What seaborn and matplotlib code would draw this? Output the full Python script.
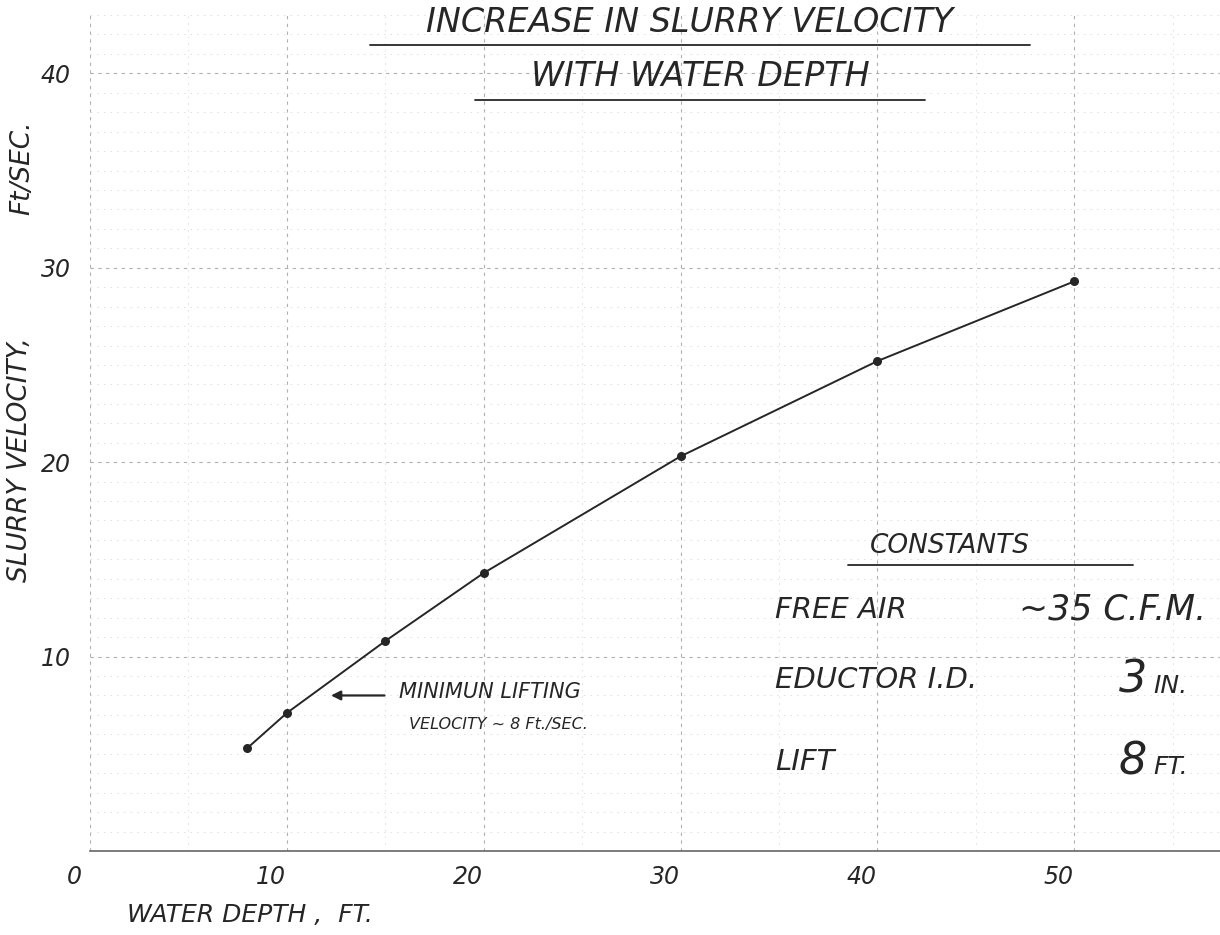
import numpy as np
import pandas as pd
import matplotlib
matplotlib.use("Agg")
import matplotlib.pyplot as plt
import matplotlib.transforms as mtransforms
from matplotlib.lines import Line2D
from matplotlib.ticker import MultipleLocator
import seaborn as sns

# values
water_depth = [8, 10, 15, 20, 30, 40, 50]
slurry_velocity = [5.3, 7.1, 10.8, 14.3, 20.3, 25.2, 29.3]

x_ticks = [0, 10, 20, 30, 40, 50]
y_ticks = [10, 20, 30, 40]

const_names = ["FREE AIR", "EDUCTOR I.D.", "LIFT"]
const_values = ["~35 C.F.M.", "3", "8"]
const_units = ["", "IN.", "FT."]

sns.set_theme(style="white")
plt.rcParams["font.family"] = ["DejaVu Sans"]

INK = "#262626"
TXT = dict(color=INK, fontstyle="italic")

df = pd.DataFrame({"depth": water_depth, "velocity": slurry_velocity})

fig = plt.figure(figsize=(12.2, 9.35), dpi=100)
ax = fig.add_axes([90 / 1220, 84 / 935, 1130 / 1220, 836 / 935])

sns.lineplot(data=df, x="depth", y="velocity", ax=ax, color=INK, linewidth=1.4,
             marker="o", markersize=6.5, markeredgewidth=0, markerfacecolor=INK)

ax.set_xlim(0, 57.4)
ax.set_ylim(0, 43)
ax.set_xticks(x_ticks)
ax.set_yticks(y_ticks)
ax.xaxis.set_minor_locator(MultipleLocator(5))
ax.yaxis.set_minor_locator(MultipleLocator(1))
ax.set_xticklabels([str(v) for v in x_ticks], fontsize=17, **TXT)
ax.set_yticklabels([str(v) for v in y_ticks], fontsize=17, **TXT)
ax.tick_params(axis="both", which="both", length=0)
ax.tick_params(axis="x", pad=10)
ax.tick_params(axis="y", pad=14)
shift = mtransforms.ScaledTranslation(-0.16, 0, fig.dpi_scale_trans)
for lab in ax.get_xticklabels():
    lab.set_transform(lab.get_transform() + shift)

ax.grid(which="major", color="#b0b0b0", linestyle=(0, (3, 4)), linewidth=0.8)
ax.grid(which="minor", color="#dedede", linestyle=(0, (2, 6)), linewidth=0.6)
for s in ["top", "right", "left"]:
    ax.spines[s].set_visible(False)
ax.spines["bottom"].set_color("#666666")
ax.spines["bottom"].set_linestyle((0, (4, 1)))
ax.spines["bottom"].set_linewidth(1.2)
ax.set_xlabel("")
ax.set_ylabel("")

# axis labels
fig.text(250 / 1220, 1 - 915 / 935, "WATER DEPTH ,  FT.", ha="center", va="center",
         fontsize=18, **TXT)
fig.text(20 / 1220, 1 - 460 / 935, "SLURRY VELOCITY,", rotation=90,
         ha="center", va="center", fontsize=19, **TXT)
fig.text(22 / 1220, 1 - 168 / 935, "Ft/SEC.", rotation=90,
         ha="center", va="center", fontsize=19, **TXT)

# title with underlines
fig.text(690 / 1220, 1 - 22 / 935, "INCREASE IN SLURRY VELOCITY", ha="center",
         va="center", fontsize=24, **TXT)
fig.text(700 / 1220, 1 - 76 / 935, "WITH WATER DEPTH", ha="center", va="center",
         fontsize=24, **TXT)
fig.add_artist(Line2D([370 / 1220, 1030 / 1220], [1 - 45 / 935] * 2, color=INK, lw=1.3))
fig.add_artist(Line2D([475 / 1220, 925 / 1220], [1 - 100 / 935] * 2, color=INK, lw=1.3))

# minimum lifting velocity note
ax.annotate("", xy=(12.1, 8.0), xytext=(15.1, 8.0),
            arrowprops=dict(arrowstyle="-|>", color=INK, lw=1.6, mutation_scale=14))
ax.text(15.7, 8.2, "MINIMUN LIFTING", ha="left", va="center", fontsize=15, **TXT)
ax.text(16.2, 6.5, "VELOCITY ~ 8 Ft./SEC.", ha="left", va="center", fontsize=11.5, **TXT)

# constants block
ax.text(43.7, 15.7, "CONSTANTS", ha="center", va="center", fontsize=19, **TXT)
fig.add_artist(Line2D([848 / 1220, 1133 / 1220], [1 - 565 / 935] * 2, color=INK, lw=1.3))
rows_y = [12.4, 8.8, 4.6]
for name, val, unit, yy in zip(const_names, const_values, const_units, rows_y):
    ax.text(34.8, yy, name, ha="left", va="center", fontsize=21, **TXT)
    if unit:
        ax.text(53.7, yy, val, ha="right", va="center", fontsize=32, **TXT)
        ax.text(54.0, yy - 0.3, unit, ha="left", va="center", fontsize=18, **TXT)
    else:
        ax.text(56.7, yy, val, ha="right", va="center", fontsize=25, **TXT)

fig.savefig("out.png", dpi=100)
